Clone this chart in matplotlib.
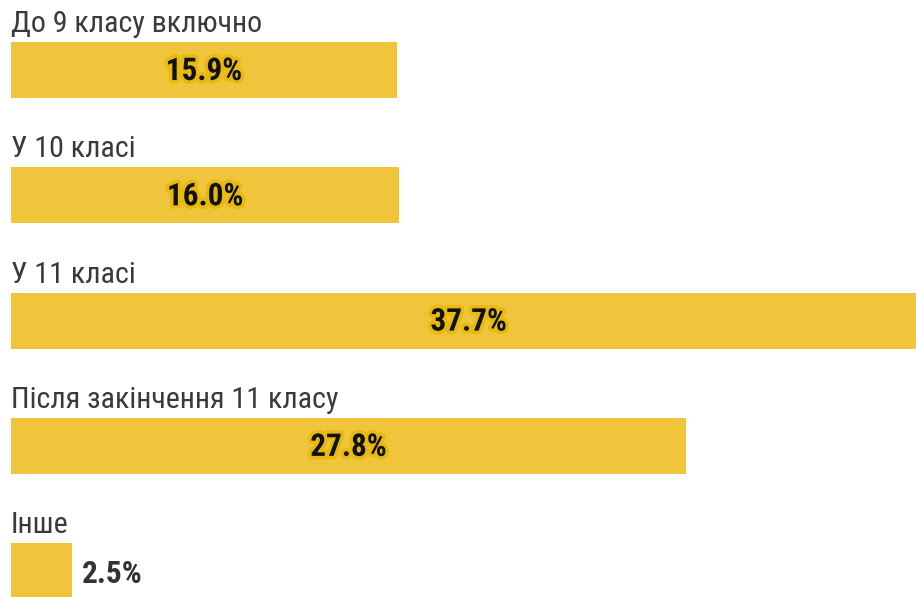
import matplotlib
matplotlib.use("Agg")
import matplotlib.pyplot as plt
import matplotlib.patheffects as pe

categories = ["До 9 класу включно", "У 10 класі", "У 11 класі",
              "Після закінчення 11 класу", "Інше"]
values = [15.9, 16.0, 37.7, 27.8, 2.5]

plt.rcParams['font.family'] = ['Roboto Condensed', 'Roboto', 'DejaVu Sans']

W, H = 916, 597
fig = plt.figure(figsize=(W / 100, H / 100), dpi=100)
ax = fig.add_axes([0, 0, 1, 1])

px_per_unit = 24.28
left = 11
ax.set_xlim(-left / px_per_unit, (W - left) / px_per_unit)
ax.set_ylim(H, 0)
ax.axis('off')

bar_color = '#F0C43B'
step = 125.3
first = 70
bh = 56

for i, (cat, v) in enumerate(zip(categories, values)):
    yc = first + i * step
    ax.barh(yc, v, height=bh, color=bar_color, left=0)
    ax.text(0, yc - bh / 2 - 10, cat, fontsize=21.6, color='#3a3a3a',
            va='baseline', ha='left')
    if v > 5:
        t = ax.text(v / 2, yc + 1, f"{v:.1f}%", fontsize=22.5, fontweight='bold',
                    color='#111111', ha='center', va='center')
        t.set_path_effects([pe.withStroke(linewidth=5, foreground='#E8B90E')])
    else:
        ax.text(v + 0.4, yc + 3, f"{v:.1f}%", fontsize=22.5, fontweight='bold',
                color='#333333', ha='left', va='center')

fig.savefig('out.png', dpi=100)
